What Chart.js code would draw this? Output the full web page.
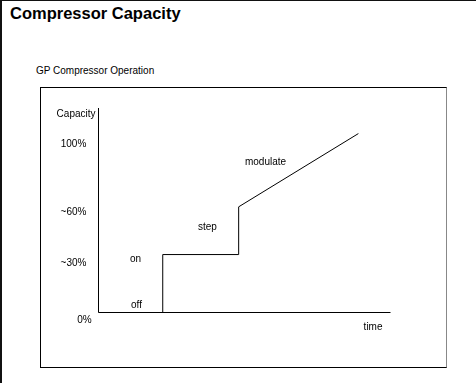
<!DOCTYPE html>
<html>
<head>
<meta charset="utf-8">
<script src="https://cdn.jsdelivr.net/npm/chart.js@4.4.1/dist/chart.umd.min.js"></script>
<style>
  body { margin: 0; background: #fff; font-family: "Liberation Sans", Arial, sans-serif; }
  #page { position: absolute; left: 0; top: 0; width: 474px; height: 383px; border-left: 2px solid #111; border-top: 1px solid #111; }
  #title { position: absolute; left: 10px; top: 4px; font-size: 16.5px; font-weight: bold; color: #000; }
  #sub { position: absolute; left: 36px; top: 65px; font-size: 10px; color: #000; }
  #box { position: absolute; left: 40px; top: 87px; width: 405px; height: 279px; border: 1px solid #000; border-right-color: #888; }
  #c { position: absolute; left: 0; top: 0; }
</style>
</head>
<body>
<div id="page"></div>
<div id="title">Compressor Capacity</div>
<div id="sub">GP Compressor Operation</div>
<div id="box"></div>
<canvas id="c" width="476" height="383"></canvas>
<script>
// operation curve: off -> on -> step -> modulate
var timeVals = [0, 22, 22, 48, 48, 89];
var capacityVals = [0, 0, 34, 34, 62, 105];

// y axis labels
var yTickVals = [100, 60, 30, 0];
var yTickLabels = ["100%", "~60%", "~30%", "0%"];

// notes along the curve
var noteText = ["off", "on", "step", "modulate"];
var noteX = [13, 12.7, 37.3, 57.2];
var noteY = [4, 31, 50, 88];

var points = timeVals.map(function (t, i) { return { x: t, y: capacityVals[i] }; });

var drawExtras = {
    id: "drawExtras",
    afterDraw: function (chart) {
        var ctx = chart.ctx;
        var a = chart.chartArea;
        var xs = chart.scales.x, ys = chart.scales.y;
        ctx.save();
        ctx.strokeStyle = "#000";
        ctx.lineWidth = 1;
        ctx.beginPath();
        ctx.moveTo(a.left, a.top);
        ctx.lineTo(a.left, a.bottom);
        ctx.lineTo(a.right, a.bottom);
        ctx.stroke();

        ctx.fillStyle = "#000";
        ctx.font = "10px 'Liberation Sans', Arial, sans-serif";
        ctx.textBaseline = "middle";
        ctx.textAlign = "right";
        ctx.fillText("Capacity", a.left - 3, a.top + 6);
        ctx.fillText("time", a.right - 8, a.bottom + 15);

        ctx.textAlign = "center";
        yTickVals.forEach(function (v, i) {
            var py = ys.getPixelForValue(v) + 2;
            var px = a.left - 25;
            if (v === 0) { px = a.left - 14; py += 6; }
            ctx.fillText(yTickLabels[i], px, py);
        });
        noteText.forEach(function (t, i) {
            ctx.fillText(t, xs.getPixelForValue(noteX[i]), ys.getPixelForValue(noteY[i]));
        });
        ctx.restore();
    }
};

new Chart(document.getElementById("c"), {
    type: "scatter",
    data: {
        datasets: [{
            data: points,
            showLine: true,
            borderColor: "#000",
            borderWidth: 1,
            pointRadius: 0,
            tension: 0,
            fill: false
        }]
    },
    options: {
        responsive: false,
        animation: false,
        devicePixelRatio: 1,
        layout: { padding: { left: 98.5, top: 108, right: 85.5, bottom: 70.5 } },
        scales: {
            x: { type: "linear", min: 0, max: 100, display: false },
            y: { type: "linear", min: 0, max: 120, display: false }
        },
        plugins: { legend: { display: false }, tooltip: { enabled: false }, title: { display: false } }
    },
    plugins: [drawExtras]
});
</script>
</body>
</html>
